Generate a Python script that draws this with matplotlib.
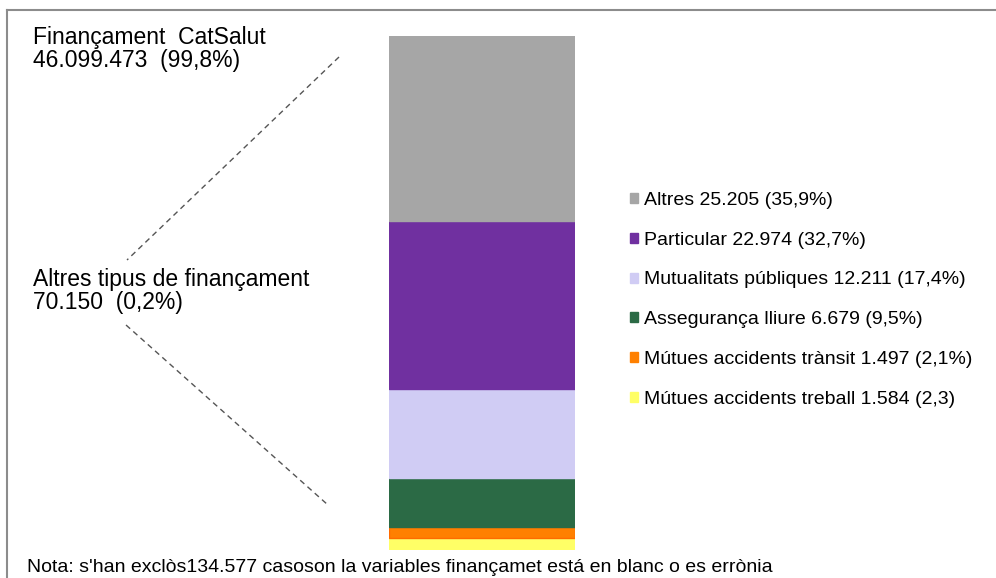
import matplotlib
matplotlib.use("Agg")
import matplotlib.pyplot as plt
from matplotlib.lines import Line2D
from matplotlib.patches import Patch

plt.rcParams['font.family'] = ['Liberation Sans', 'DejaVu Sans']

# dades (de baix a dalt)
categories = ['Mútues accidents treball', 'Mútues accidents trànsit', 'Assegurança lliure',
              'Mutualitats públiques', 'Particular', 'Altres']
values = [1584, 1497, 6679, 12211, 22974, 25205]
pct_labels = ['(2,3)', '(2,1%)', '(9,5%)', '(17,4%)', '(32,7%)', '(35,9%)']
value_labels = ['1.584', '1.497', '6.679', '12.211', '22.974', '25.205']
colors = ['#FFFF66', '#FF8000', '#2B6A45', '#D0CCF4', '#7030A0', '#A6A6A6']
edges = ['#FFFF66', '#FF6A00', '#2B6A45', '#D0CCF4', '#7030A0', '#A6A6A6']

catsalut_text = 'Finançament  CatSalut\n46.099.473  (99,8%)'
altres_text = 'Altres tipus de finançament\n70.150  (0,2%)'
nota = "Nota: s'han exclòs134.577 casoson la variables finançamet está en blanc o es errònia"

W, H = 996, 578
fig = plt.figure(figsize=(W / 100, H / 100), dpi=100)

# eix de la barra apilada
ax = fig.add_axes([389 / W, (H - 550) / H, (575 - 389) / W, 514 / H])
bottom = 0
for v, c, e in zip(values, colors, edges):
    ax.bar(0, v, bottom=bottom, width=1, color=c, edgecolor=e, linewidth=1)
    bottom += v
ax.set_xlim(-0.5, 0.5)
ax.set_ylim(0, sum(values))
ax.axis('off')

# marc del gràfic
fig.add_artist(Line2D([7 / W, 7 / W], [0, 1 - 10 / H], color='#8C8C8C', lw=1.5))
fig.add_artist(Line2D([7 / W, 1], [1 - 10 / H, 1 - 10 / H], color='#8C8C8C', lw=1.5))

# línies discontínues
fig.add_artist(Line2D([339 / W, 127 / W], [1 - 57 / H, 1 - 260 / H],
                      color='#555555', lw=1, ls=(0, (4, 3))))
fig.add_artist(Line2D([126 / W, 328 / W], [1 - 325 / H, 1 - 505 / H],
                      color='#555555', lw=1, ls=(0, (4, 3))))

fig.text(33 / W, 1 - 49 / H, catsalut_text, fontsize=16.5, va='center', ha='left',
         linespacing=0.95)
fig.text(33 / W, 1 - 291 / H, altres_text, fontsize=16.5, va='center', ha='left',
         linespacing=0.95)

# llegenda
handles = []
for cat, val, pct, c in list(zip(categories, value_labels, pct_labels, colors))[::-1]:
    handles.append(Patch(facecolor=c, edgecolor=c, label=f'{cat} {val} {pct}'))
fig.legend(handles=handles, loc='upper left', bbox_to_anchor=(630 / W, 1 - 192 / H),
           frameon=False, fontsize=14, labelspacing=1.17, handlelength=0.42,
           handleheight=0.42, handletextpad=0.3, borderaxespad=0, borderpad=0)

fig.text(27 / W, 1 - 568 / H, nota, fontsize=14, va='center', ha='left')

fig.savefig('out.png', dpi=100, facecolor='white')
